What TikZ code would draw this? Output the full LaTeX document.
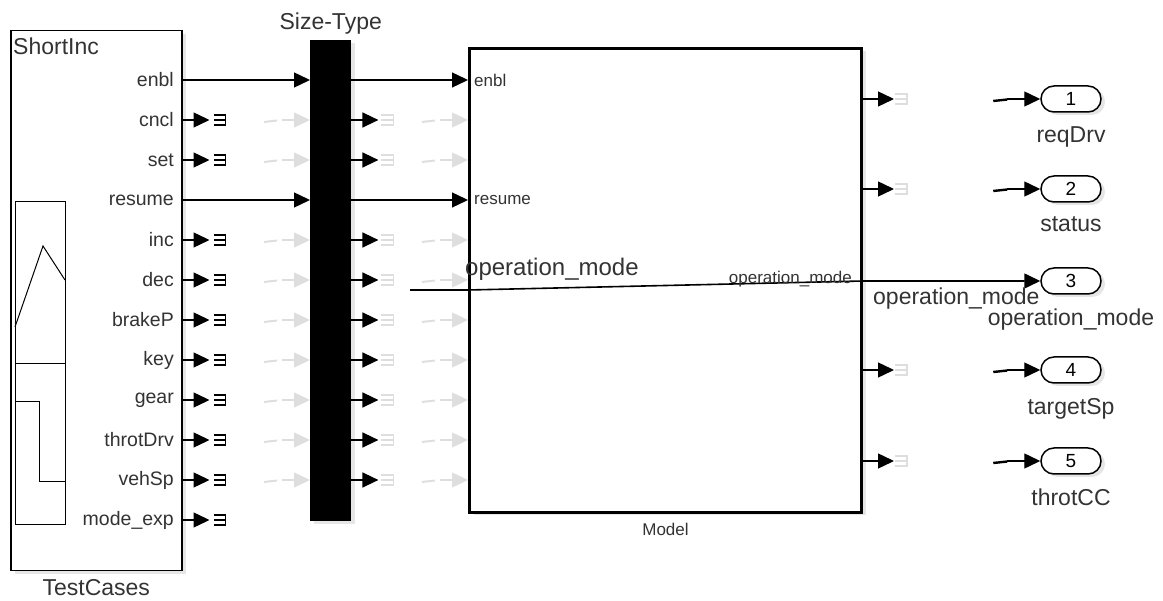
\documentclass[tikz,border=0pt]{standalone}
\usepackage{fontspec}
\setmainfont{Liberation Sans}
\usetikzlibrary{arrows.meta, positioning, shadows}

\newcommand\fsz[1]{\fontsize{#1}{#1}\selectfont}

\tikzset{
  sig/.style={line width=1.4pt, -{Triangle[length=16pt,width=15pt]}},
  ghost/.style={draw=black!13, line width=1.3pt, -{Triangle[length=16pt,width=15pt]}, fill=black!13},
  ghostdash/.style={draw=black!13, line width=2pt},
  stubdash/.style={draw=black, line width=2.4pt},
  boxshadow/.style={drop shadow={shadow xshift=4pt, shadow yshift=-3pt, opacity=0.2}},
  portlbl/.style={font=\fsz{19.5}, text=black!80, inner sep=0pt},
  namelbl/.style={font=\fsz{23}, text=black!80, inner sep=0pt},
  outport/.style={draw, line width=1.5pt, rounded corners=13pt, minimum width=60pt,
    minimum height=26pt, inner sep=0pt, fill=white, boxshadow, font=\fsz{19}},
  sigterm/.pic={\draw[line width=1.5pt] (-12,-5) -- (0,-5) -- (0,5) -- (-12,5) (-12,0) -- (0,0);}
}

\begin{document}
\begin{tikzpicture}[x=1pt, y=-1pt]
\useasboundingbox (0,0) rectangle (1163,601);

% blocks
\node[draw, line width=1.5pt, fill=white, boxshadow, minimum width=171pt, minimum height=540pt,
  anchor=north west, inner sep=0pt] (tc) at (10,30) {};
\node[fill=black, boxshadow, minimum width=41pt, minimum height=481pt,
  anchor=north west, inner sep=0pt] (st) at (310,40) {};
\node[draw, line width=3pt, fill=white, boxshadow, minimum width=392pt, minimum height=464pt,
  anchor=north west, inner sep=0pt] (model) at (468,47) {};

\node[namelbl, anchor=north west] (shortinc) at (13,38) {ShortInc};
\node[namelbl, below=8pt of tc.south] (tcname) {TestCases};
\node[namelbl, above=6pt of st.north] (stname) {Size-Type};
\node[portlbl, font=\fsz{17}, below=9pt of model.south] (modelname) {Model};

% signal plot inside TestCases
\draw[line width=1pt] (15,202) rectangle (65,525);
\draw[line width=1pt] (15,327) -- (43,246) -- (65,280);
\draw[line width=1pt] (15,364) -- (65,364);
\draw[line width=1pt] (15,402) -- (39,402) -- (39,482) -- (65,482);

% TestCases ports
\foreach \lbl [count=\i] in {enbl,cncl,set,resume,inc,dec,brakeP,key,gear,throtDrv,vehSp,mode\_exp}
  \node[portlbl, anchor=east] (in\i) at (174,{40+40*\i}) {\lbl};

\foreach \i in {1,4} {
  \draw[sig] (tc.east |- in\i) -- (st.west |- in\i);
  \draw[sig] (st.east |- in\i) -- (model.west |- in\i);
}
\foreach \i in {2,3,5,6,7,8,9,10,11,12} {
  \draw[sig] (tc.east |- in\i) -- ++(27,0);
  \path (tc.east |- in\i) ++(43,0) pic {sigterm};
}
\foreach \i in {2,3,5,6,7,8,9,10,11} {
  \draw[ghostdash] (st.west |- in\i) ++(-46,2) -- ++(13,-1.5);
  \draw[ghost] (st.west |- in\i) ++(-28,0) -- (st.west |- in\i);
  \draw[sig] (st.east |- in\i) -- ++(27,0);
  \path (st.east |- in\i) ++(42,0) pic[black!13] {sigterm};
  \draw[ghostdash] (model.west |- in\i) ++(-46,2) -- ++(13,-1.5);
  \draw[ghost] (model.west |- in\i) ++(-28,0) -- (model.west |- in\i);
}

\path (model.west |- in1) node[portlbl, font=\fsz{17}, anchor=west, inner sep=6pt] (menbl) {enbl};
\path (model.west |- in4) node[portlbl, font=\fsz{17}, anchor=west, inner sep=6pt] (mresume) {resume};

% outports
\foreach \n/\y/\name in {1/99/reqDrv, 2/189/status, 3/281/operation\_mode, 4/370/targetSp, 5/461/throtCC} {
  \node[outport] (op\n) at (1071,\y) {\n};
  \node[namelbl, below=14pt of op\n] (opname\n) {\name};
}
\foreach \n in {1,2,4,5} {
  \draw[sig] (model.east |- op\n) -- ++(31,0);
  \path (model.east |- op\n) ++(44,0) pic[black!13] {sigterm};
  \draw[stubdash] (op\n.west) ++(-47,2) -- ++(14,-1.5);
  \draw[sig] (op\n.west) ++(-33,0) -- (op\n.west);
}

% operation_mode
\coordinate (opsrc) at (410,290);
\draw[sig, line width=1.6pt] (opsrc) -- (model.west |- opsrc) -- (model.east |- op3) -- (op3.west);
\node[namelbl, font=\fsz{24}, anchor=base west] (opbig) at (465,276) {operation\_mode};
\node[portlbl, font=\fsz{17}, anchor=base east] (opinner) at (852,284) {operation\_mode};
\node[namelbl, anchor=base west] (oplow) at (873,305) {operation\_mode};
\end{tikzpicture}
\end{document}
